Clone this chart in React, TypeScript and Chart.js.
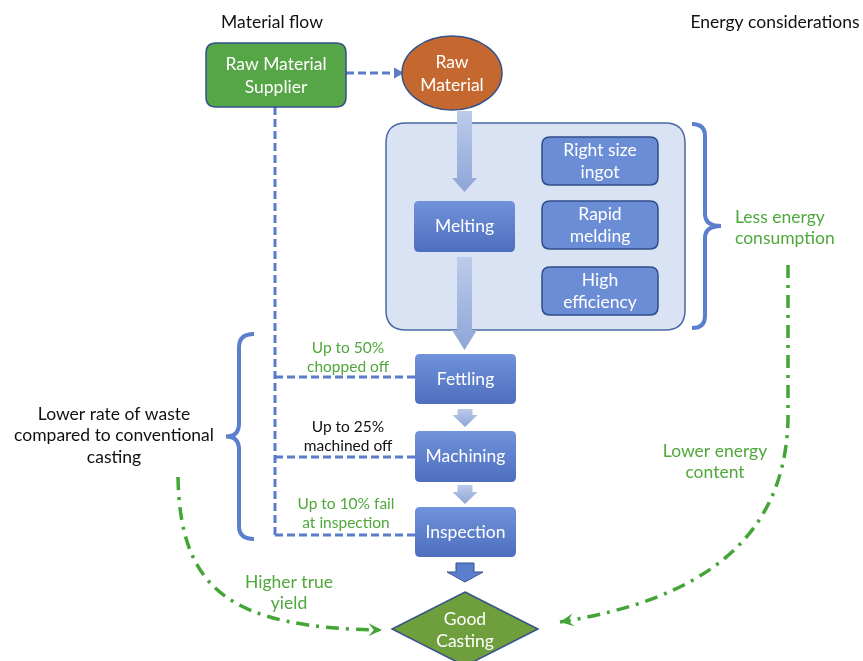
import React, { useEffect, useRef } from "react";
import { Chart, registerables } from "chart.js";
Chart.register(...registerables);

const W = 863;
const H = 661;
const FONT = "Lato, 'Open Sans', sans-serif";

// Headings
const headingTexts = ["Material flow", "Energy considerations"];
const headingX = [272, 775];
const headingY = [22, 22];

// Gradient process boxes
const processLabels = ["Melting", "Fettling", "Machining", "Inspection"];
const processX0 = [414, 415, 415, 415];
const processX1 = [515, 516, 516, 516];
const processY0 = [201, 354, 431, 507];
const processY1 = [252, 404, 482, 557];

// Energy option boxes
const energyLine1 = ["Right size", "Rapid", "High"];
const energyLine2 = ["ingot", "melding", "efficiency"];
const energyX0 = [542, 542, 542];
const energyX1 = [658, 658, 658];
const energyY0 = [137, 201, 267];
const energyY1 = [185, 249, 315];

// Light block arrows (centre x, top, head start, tip)
const arrowCx = [464.5, 464.5, 465, 465];
const arrowTop = [111, 257, 409, 485];
const arrowHead = [178, 330, 415, 492];
const arrowTip = [192, 350, 427, 504];

// Dashed material connectors
const dashX0 = [346, 275, 275, 275, 275];
const dashY0 = [73, 107, 377, 457, 535];
const dashX1 = [396, 275, 415, 415, 415];
const dashY1 = [73, 535, 377, 457, 535];

// Waste annotations
const wasteLine1 = ["Up to 50%", "Up to 25%", "Up to 10% fail"];
const wasteLine2 = ["chopped off", "machined off", "at inspection"];
const wasteX = [348, 348, 346];
const wasteY = [348, 427, 504];
const wasteColor = ["#4ea83a", "#111111", "#4ea83a"];

// Green side labels
const sideLine1 = ["Less energy", "Lower energy", "Higher true"];
const sideLine2 = ["consumption", "content", "yield"];
const sideX = [735, 715, 289];
const sideY = [217, 451, 582];
const sideAlign = ["left", "center", "center"];

// Left black label
const leftLines = ["Lower rate of waste", "compared to conventional", "casting"];
const leftX = 114;
const leftY = [414, 435, 457];

// Dash-dot curves: start, straight-run end, cp1, cp2, end
const curveSX = [178, 788];
const curveSY = [477, 265];
const curveMX = [178, 788];
const curveMY = [477, 420];
const curveC1X = [180, 785];
const curveC1Y = [590, 540];
const curveC2X = [230, 700];
const curveC2Y = [628, 600];
const curveEX = [382, 560];
const curveEY = [630, 622];

function roundRect(ctx: CanvasRenderingContext2D, x0: number, y0: number, x1: number, y1: number, r: number) {
  ctx.beginPath();
  ctx.moveTo(x0 + r, y0);
  ctx.lineTo(x1 - r, y0);
  ctx.quadraticCurveTo(x1, y0, x1, y0 + r);
  ctx.lineTo(x1, y1 - r);
  ctx.quadraticCurveTo(x1, y1, x1 - r, y1);
  ctx.lineTo(x0 + r, y1);
  ctx.quadraticCurveTo(x0, y1, x0, y1 - r);
  ctx.lineTo(x0, y0 + r);
  ctx.quadraticCurveTo(x0, y0, x0 + r, y0);
  ctx.closePath();
}

const diagramPlugin = {
  id: "diagram",
  afterDatasetsDraw(chart: any) {
    const ctx: CanvasRenderingContext2D = chart.ctx;
    const sx = chart.scales.x;
    const sy = chart.scales.y;
    const px = (v: number) => sx.getPixelForValue(v);
    const py = (v: number) => sy.getPixelForValue(v);
    ctx.save();
    ctx.textBaseline = "middle";

    const text = (t: string, x: number, y: number, size: number, color: string, align: string = "center") => {
      ctx.font = `${size}px ${FONT}`;
      ctx.fillStyle = color;
      ctx.textAlign = align as CanvasTextAlign;
      ctx.fillText(t, px(x), py(y));
    };

    headingTexts.forEach((t, i) => text(t, headingX[i], headingY[i], 17.5, "#111"));

    // supplier box
    roundRect(ctx, px(206), py(43), px(346), py(107), 10);
    ctx.fillStyle = "#56a546";
    ctx.fill();
    ctx.lineWidth = 1.5;
    ctx.strokeStyle = "#35528c";
    ctx.stroke();
    text("Raw Material", 276, 64, 17.5, "#fff");
    text("Supplier", 276, 87, 17.5, "#fff");

    // arrowhead on dashed connector
    ctx.beginPath();
    ctx.moveTo(px(404), py(73));
    ctx.lineTo(px(394), py(67.5));
    ctx.lineTo(px(394), py(78.5));
    ctx.closePath();
    ctx.fillStyle = "#5a7cc8";
    ctx.fill();

    // raw material ellipse
    ctx.beginPath();
    ctx.ellipse(px(452), py(73), px(502) - px(452), py(110) - py(73), 0, 0, Math.PI * 2);
    ctx.fillStyle = "#c5682f";
    ctx.fill();
    ctx.lineWidth = 1.5;
    ctx.strokeStyle = "#35528c";
    ctx.stroke();
    text("Raw", 452, 62, 17.5, "#fff");
    text("Material", 452, 85, 17.5, "#fff");

    // big panel
    roundRect(ctx, px(386), py(123), px(685), py(330), 20);
    ctx.fillStyle = "#dae3f3";
    ctx.fill();
    ctx.lineWidth = 1.5;
    ctx.strokeStyle = "#4a68a6";
    ctx.stroke();

    // energy boxes
    energyLine1.forEach((t, i) => {
      roundRect(ctx, px(energyX0[i]), py(energyY0[i]), px(energyX1[i]), py(energyY1[i]), 8);
      ctx.fillStyle = "#6b8dd6";
      ctx.fill();
      ctx.lineWidth = 1.5;
      ctx.strokeStyle = "#2f4d8a";
      ctx.stroke();
      const cx = (energyX0[i] + energyX1[i]) / 2;
      const cy = (energyY0[i] + energyY1[i]) / 2;
      text(t, cx, cy - 10.5, 17.5, "#fff");
      text(energyLine2[i], cx, cy + 11, 17.5, "#fff");
    });

    // light block arrows
    arrowCx.forEach((cx, i) => {
      const g = ctx.createLinearGradient(0, py(arrowTop[i]), 0, py(arrowTip[i]));
      g.addColorStop(0, "#bccbea");
      g.addColorStop(1, "#8ea5d7");
      ctx.beginPath();
      ctx.moveTo(px(cx - 7.5), py(arrowTop[i]));
      ctx.lineTo(px(cx + 7.5), py(arrowTop[i]));
      ctx.lineTo(px(cx + 7.5), py(arrowHead[i]));
      ctx.lineTo(px(cx + 12.5), py(arrowHead[i]));
      ctx.lineTo(px(cx), py(arrowTip[i]));
      ctx.lineTo(px(cx - 12.5), py(arrowHead[i]));
      ctx.lineTo(px(cx - 7.5), py(arrowHead[i]));
      ctx.closePath();
      ctx.fillStyle = g;
      ctx.fill();
    });

    // process boxes
    processLabels.forEach((t, i) => {
      const g = ctx.createLinearGradient(0, py(processY0[i]), 0, py(processY1[i]));
      g.addColorStop(0, "#7093db");
      g.addColorStop(1, "#4e6ebe");
      roundRect(ctx, px(processX0[i]), py(processY0[i]), px(processX1[i]), py(processY1[i]), 5);
      ctx.fillStyle = g;
      ctx.fill();
      text(t, (processX0[i] + processX1[i]) / 2, (processY0[i] + processY1[i]) / 2, 17.5, "#fff");
    });

    // dark block arrow to diamond
    ctx.beginPath();
    ctx.moveTo(px(456), py(563));
    ctx.lineTo(px(474), py(563));
    ctx.lineTo(px(474), py(572));
    ctx.lineTo(px(483), py(572));
    ctx.lineTo(px(465), py(582));
    ctx.lineTo(px(447), py(572));
    ctx.lineTo(px(456), py(572));
    ctx.closePath();
    ctx.fillStyle = "#5b7fcc";
    ctx.fill();
    ctx.lineWidth = 1;
    ctx.strokeStyle = "#35528c";
    ctx.stroke();

    // diamond
    ctx.beginPath();
    ctx.moveTo(px(465), py(592));
    ctx.lineTo(px(538), py(629));
    ctx.lineTo(px(465), py(666));
    ctx.lineTo(px(392), py(629));
    ctx.closePath();
    ctx.fillStyle = "#6f9e3c";
    ctx.fill();
    ctx.lineWidth = 1.5;
    ctx.strokeStyle = "#35528c";
    ctx.stroke();
    text("Good", 465, 619, 17.5, "#fff");
    text("Casting", 465, 641, 17.5, "#fff");

    // braces
    const brace = (xe: number, xm: number, xt: number, top: number, bot: number, r: number) => {
      const mid = (top + bot) / 2;
      ctx.beginPath();
      ctx.moveTo(px(xe), py(top));
      ctx.quadraticCurveTo(px(xm), py(top), px(xm), py(top + r));
      ctx.lineTo(px(xm), py(mid - r));
      ctx.quadraticCurveTo(px(xm), py(mid), px(xt), py(mid));
      ctx.quadraticCurveTo(px(xm), py(mid), px(xm), py(mid + r));
      ctx.lineTo(px(xm), py(bot - r));
      ctx.quadraticCurveTo(px(xm), py(bot), px(xe), py(bot));
      ctx.lineWidth = 4;
      ctx.strokeStyle = "#5b7fcc";
      ctx.stroke();
    };
    brace(692, 705, 721, 124, 328, 12);
    brace(254, 239, 226, 334, 539, 13);

    // waste annotations
    wasteLine1.forEach((t, i) => {
      text(t, wasteX[i], wasteY[i], 15.5, wasteColor[i]);
      text(wasteLine2[i], wasteX[i], wasteY[i] + 19, 15.5, wasteColor[i]);
    });

    // side labels
    sideLine1.forEach((t, i) => {
      text(t, sideX[i], sideY[i], 17.5, "#4ea83a", sideAlign[i]);
      text(sideLine2[i], sideX[i], sideY[i] + 21, 17.5, "#4ea83a", sideAlign[i]);
    });

    leftLines.forEach((t, i) => text(t, leftX, leftY[i], 17.5, "#111"));

    // dash-dot curves
    ctx.strokeStyle = "#43a535";
    ctx.fillStyle = "#43a535";
    curveSX.forEach((_, i) => {
      ctx.lineWidth = 3.5;
      ctx.setLineDash([13, 7, 3, 7]);
      ctx.beginPath();
      ctx.moveTo(px(curveSX[i]), py(curveSY[i]));
      ctx.lineTo(px(curveMX[i]), py(curveMY[i]));
      ctx.bezierCurveTo(
        px(curveC1X[i]), py(curveC1Y[i]),
        px(curveC2X[i]), py(curveC2Y[i]),
        px(curveEX[i]) - 0, py(curveEY[i])
      );
      ctx.stroke();
      ctx.setLineDash([]);
      const ex = px(curveEX[i]);
      const ey = py(curveEY[i]);
      const a = Math.atan2(ey - py(curveC2Y[i]), ex - px(curveC2X[i]));
      const L = 15;
      const b = 0.45;
      ctx.beginPath();
      ctx.moveTo(ex, ey);
      ctx.lineTo(ex - L * Math.cos(a - b), ey - L * Math.sin(a - b));
      ctx.lineTo(ex - 0.55 * L * Math.cos(a), ey - 0.55 * L * Math.sin(a));
      ctx.lineTo(ex - L * Math.cos(a + b), ey - L * Math.sin(a + b));
      ctx.closePath();
      ctx.fill();
    });

    ctx.restore();
  },
};

export default function App() {
  const ref = useRef<HTMLCanvasElement | null>(null);
  useEffect(() => {
    if (!ref.current) return;
    const datasets = dashX0.map((x0, i) => ({
      data: [
        { x: x0, y: dashY0[i] },
        { x: dashX1[i], y: dashY1[i] },
      ],
      showLine: true,
      borderColor: "#5a7cc8",
      borderWidth: 3,
      borderDash: [8, 4],
      pointRadius: 0,
      fill: false,
    }));
    const chart = new Chart(ref.current, {
      type: "scatter",
      data: { datasets },
      options: {
        animation: false,
        responsive: false,
        devicePixelRatio: 1,
        layout: { padding: 0 },
        plugins: { legend: { display: false }, tooltip: { enabled: false } },
        scales: {
          x: { type: "linear", min: 0, max: W, display: false },
          y: { type: "linear", min: 0, max: H, reverse: true, display: false },
        },
      },
      plugins: [diagramPlugin],
    } as any);
    return () => chart.destroy();
  }, []);
  return (
    <div style={{ position: "absolute", left: 0, top: 0, width: W, height: H, background: "#fff" }}>
      <canvas ref={ref} width={W} height={H} style={{ display: "block" }} />
    </div>
  );
}
